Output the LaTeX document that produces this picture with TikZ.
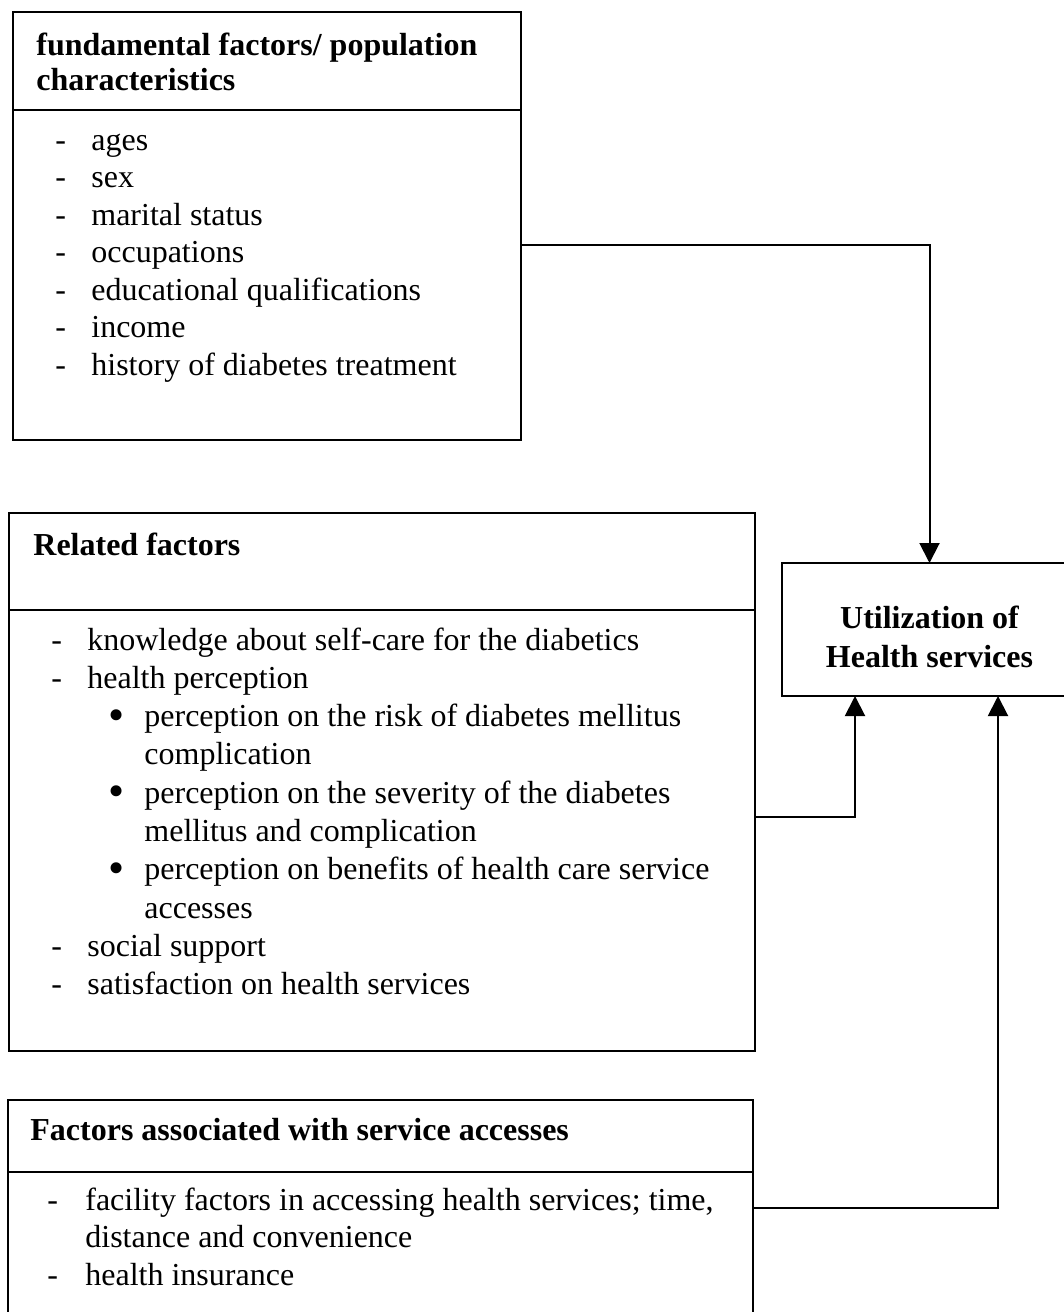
\documentclass[tikz,border=0pt]{standalone}
\usepackage{fontspec}
\setmainfont{Liberation Serif}
\usetikzlibrary{arrows.meta}

\newcommand{\bigdot}{\hspace*{10.5pt}\raisebox{-1.8pt}{\fontsize{23pt}{0pt}\selectfont\textbullet}}

\begin{document}
\begin{tikzpicture}[
    x=0.5pt, y=-0.5pt,
    panel/.style={rectangle, draw=black, line width=1pt, anchor=north west,
        inner sep=0pt, outer sep=0pt},
    txt/.style={anchor=base west, inner sep=0pt,
        font={\fontsize{16pt}{18.75pt}\selectfont}},
    head/.style={txt, font={\fontsize{16pt}{17.5pt}\selectfont\bfseries}},
    link/.style={line width=1pt, -{Triangle[length=10pt,width=10pt]}}
]
    \useasboundingbox (0,0) rectangle (1064,1312);
    \clip (0,0) rectangle (1064,1312);

    % boxes
    \node[panel, minimum width=254pt, minimum height=49pt] (fundhead) at (13,12) {};
    \node[panel, minimum width=254pt, minimum height=165pt] (fundbody) at (fundhead.south west) {};
    \node[panel, minimum width=373pt, minimum height=48.5pt] (relhead) at (9,513) {};
    \node[panel, minimum width=373pt, minimum height=220.5pt] (relbody) at (relhead.south west) {};
    \node[panel, minimum width=372.5pt, minimum height=36pt] (acchead) at (8,1100) {};
    \node[panel, minimum width=372.5pt, minimum height=84pt] (accbody) at (acchead.south west) {};
    \node[panel, minimum width=147.5pt, minimum height=66.5pt] (util) at (782,563) {};

    % texts
    \node[head] (fundtitle) at (36,55) {\begin{tabular}[t]{@{}l@{}}
        fundamental factors/ population\\ characteristics\end{tabular}};
    \node[txt] (fundlist) at (55,150) {\begin{tabular}[t]{@{}p{18pt}@{}l@{}}
        - & ages\\
        - & sex\\
        - & marital status\\
        - & occupations\\
        - & educational qualifications\\
        - & income\\
        - & history of diabetes treatment
    \end{tabular}};

    \node[head] (reltitle) at (33,555) {Related factors};
    \node[txt, font={\fontsize{16pt}{19.15pt}\selectfont}] (rellist) at (51,650) {%
    \begin{tabular}[t]{@{}p{18pt}@{}p{28.5pt}@{}l@{}}
        - & \multicolumn{2}{@{}l@{}}{knowledge about self-care for the diabetics}\\
        - & \multicolumn{2}{@{}l@{}}{health perception}\\
          & \bigdot & perception on the risk of diabetes mellitus\\
          & & complication\\
          & \bigdot & perception on the severity of the diabetes\\
          & & mellitus and complication\\
          & \bigdot & perception on benefits of health care service\\
          & & accesses\\
        - & \multicolumn{2}{@{}l@{}}{social support}\\
        - & \multicolumn{2}{@{}l@{}}{satisfaction on health services}
    \end{tabular}};

    \node[head] (acctitle) at (30,1140) {Factors associated with service accesses};
    \node[txt] (acclist) at (47,1210) {\begin{tabular}[t]{@{}p{19pt}@{}l@{}}
        - & facility factors in accessing health services; time,\\
          & distance and convenience\\
        - & health insurance
    \end{tabular}};

    \node[head, anchor=base, font={\fontsize{16pt}{19.5pt}\selectfont\bfseries}]
        (utiltitle) at (929.5,628) {\begin{tabular}[t]{@{}c@{}}
        Utilization of\\ Health services\end{tabular}};

    % connectors
    \draw[link] ([yshift=15pt]fundbody.east) -| (util.north);
    \draw[link] ([yshift=6.75pt]relbody.east) -| ([xshift=36.5pt]util.south west);
    \draw[link] ([yshift=24pt]accbody.east) -| ([xshift=108pt]util.south west);
\end{tikzpicture}
\end{document}
